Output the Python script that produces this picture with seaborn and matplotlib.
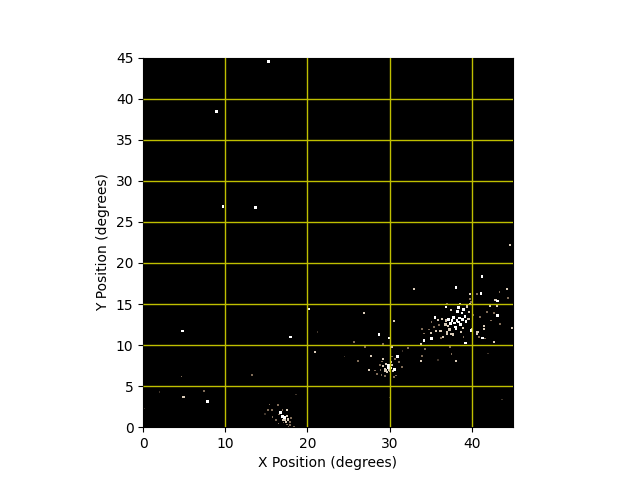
import matplotlib
matplotlib.use('Agg')
import matplotlib.pyplot as plt
import numpy as np
import pandas as pd
import seaborn as sns

# star positions, in degrees, split by how bright they look
bright_x = [15.25, 8.96, 9.7, 13.7, 20.2, 17.9, 4.8, 7.83, 41.24, 38.08, 41.12, 43.15, 36.87, 38.37, 43.11,
            35.53, 37.76, 34.19, 35.12, 39.26, 41.33, 39.95, 28.71, 29.93, 30.94,
            38.2, 38.5, 37.8, 38.9, 37.4, 38.0, 38.6, 39.2, 38.3, 39.0, 37.6, 38.1, 39.3, 38.8, 37.2, 38.4, 37.9,
            29.8, 30.1, 29.9, 30.6, 16.71, 17.19, 16.99]
bright_y = [44.5, 38.44, 26.88, 26.76, 14.4, 11.0, 11.7, 3.12, 18.33, 17.04, 16.31, 15.37, 14.64, 14.56, 13.63,
            13.35, 13.35, 10.59, 10.79, 10.26, 10.87, 11.8, 11.32, 10.87, 8.6,
            13.0, 13.3, 13.4, 13.1, 12.6, 12.2, 12.5, 13.5, 14.1, 14.3, 13.0, 12.0, 12.9, 13.9, 13.1, 12.8, 12.7,
            7.3, 7.2, 7.5, 7.0, 1.82, 1.17, 1.34]
mid_x = [44.65, 32.97, 44.25, 39.78, 42.9, 39.78, 42.18, 43.03, 26.89, 30.5, 36.4, 35.9, 36.9, 36.2, 35.7, 35.0,
         36.5, 37.0, 37.5, 40.0, 40.7, 41.5, 42.66, 40.6, 44.9, 41.49, 37.76, 36.99, 33.82, 38.08, 33.86,
         30.26, 27.74, 29.24, 27.46, 4.9, 20.88, 17.48, 17.27, 17.68, 17.4, 17.0, 17.5,
         29.4, 29.6, 30.3, 30.4, 29.5, 30.2, 29.2, 30.0, 29.7, 29.9, 30.1,
         38.9, 39.6, 37.1, 39.7, 37.5, 38.7, 39.4, 36.8, 37.3, 38.6]
mid_y = [22.19, 16.83, 16.83, 16.18, 15.45, 14.97, 14.77, 14.81, 13.91, 12.94, 13.2, 13.1, 13.0, 11.7, 11.7, 11.5,
         11.0, 11.4, 11.3, 11.9, 11.6, 12.0, 10.39, 11.36, 12.05, 12.29, 11.28, 11.6, 10.06, 8.03, 8.07,
         9.78, 8.64, 8.32, 6.94, 3.65, 9.16, 2.07, 0.85, 0.93, 0.6, 0.9, 1.4,
         7.1, 7.7, 7.6, 6.8, 6.9, 7.9, 7.5, 6.9, 6.7, 7.0, 7.6,
         12.1, 13.2, 12.3, 14.0, 14.3, 11.6, 14.7, 12.5, 11.9, 15.0]
dim_x = [43.39, 39.78, 40.6, 44.37, 34.35, 37.35, 29.24, 25.67, 26.97, 26.16, 33.9, 37.55, 32.24, 4.66, 7.42, 13.26,
         34.8, 34.2, 35.4, 41.0, 42.3, 41.9, 43.4, 40.2, 39.9, 37.0, 36.0, 33.9, 39.0, 42.7, 35.1, 36.3, 40.9, 41.6,
         28.5, 28.8, 29.0, 30.8, 31.1, 31.5, 28.2, 30.5, 29.1, 30.7, 29.4, 30.3, 28.9,
         17.88, 17.88, 18.37, 17.48, 17.07, 16.46, 16.18, 15.73, 15.69, 15.17, 15.37, 16.38, 16.95, 16.54, 18.0, 17.7]
dim_y = [16.47, 15.58, 16.18, 15.7, 9.53, 9.78, 10.1, 10.35, 9.78, 8.03, 8.68, 8.89, 9.62, 6.17, 4.38, 6.36,
         11.9, 11.4, 12.2, 13.4, 13.0, 14.0, 12.6, 13.7, 15.2, 15.0, 12.4, 12.0, 11.0, 13.9, 12.8, 10.9, 11.0, 10.8,
         6.5, 7.6, 6.4, 6.3, 7.9, 7.3, 6.9, 6.1, 8.0, 8.3, 6.2, 8.6, 7.0,
         0.65, 0.24, 0.08, 0.32, 0.56, 0.44, 0.85, 1.25, 2.07, 2.11, 2.75, 2.67, 2.07, 1.54, 1.1, 0.1]
faint_x = [14.84, 0.16, 2.0, 21.2, 31.6, 35.9, 43.7, 42.0, 24.5, 18.6, 30.0]
faint_y = [1.62, 2.27, 4.3, 11.6, 9.3, 8.2, 3.4, 9.0, 8.6, 4.0, 3.6]

x_ticks = [0, 10, 20, 30, 40]
y_ticks = np.arange(0, 50, 5)

stars = pd.concat([
    pd.DataFrame({'x': faint_x, 'y': faint_y, 'level': 'faint'}),
    pd.DataFrame({'x': dim_x, 'y': dim_y, 'level': 'dim'}),
    pd.DataFrame({'x': mid_x, 'y': mid_y, 'level': 'mid'}),
    pd.DataFrame({'x': bright_x, 'y': bright_y, 'level': 'bright'}),
])
colours = {'faint': '#3f342a', 'dim': '#806c58', 'mid': '#d9cbb8', 'bright': '#ffffff'}
sizes = {'faint': 1.0, 'dim': 1.6, 'mid': 2.4, 'bright': 3.6}

fig, ax = plt.subplots(figsize=(6.4, 4.8), dpi=100)
ax.set_facecolor('black')
sns.scatterplot(data=stars, x='x', y='y', hue='level', palette=colours, size='level', sizes=sizes,
                marker='s', linewidth=0, legend=False, ax=ax)
ax.set_xlim(0, 45)
ax.set_ylim(0, 45)
ax.set_aspect('equal')
ax.set_xticks(x_ticks)
ax.set_yticks(y_ticks)
ax.grid(color='y', linewidth=1.0)
ax.set_axisbelow(False)
# the lines on the frame itself do not show in the original
ax.xaxis.get_gridlines()[0].set_visible(False)
ax.yaxis.get_gridlines()[0].set_visible(False)
ax.yaxis.get_gridlines()[-1].set_visible(False)
ax.set_xlabel('X Position (degrees)')
ax.set_ylabel('Y Position (degrees)')
fig.savefig('out.png', dpi=100)
